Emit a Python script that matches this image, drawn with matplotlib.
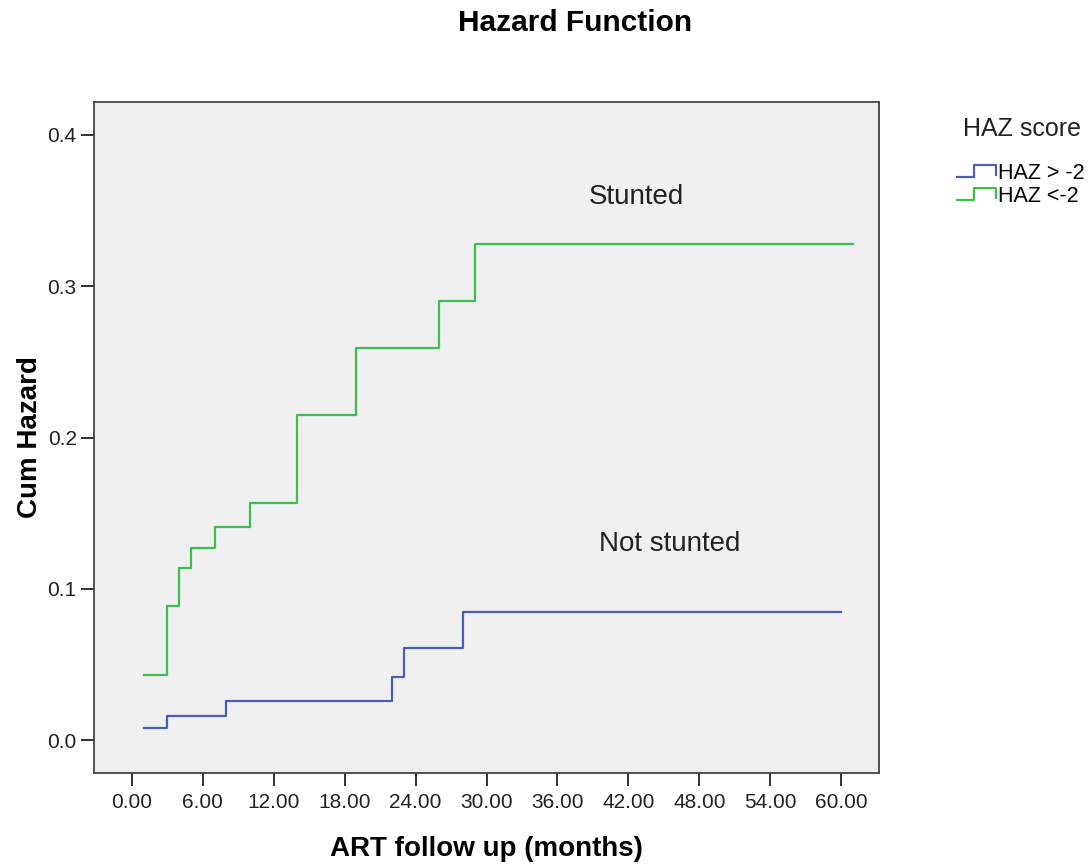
import matplotlib
matplotlib.use("Agg")
import matplotlib.pyplot as plt
from matplotlib.lines import Line2D
from matplotlib.legend_handler import HandlerBase

plt.rcParams['font.family'] = ['Liberation Sans', 'DejaVu Sans']

# Cumulative hazard step data
months_normal = [1, 3, 8, 22, 23, 28, 60]
hazard_normal = [0.008, 0.016, 0.026, 0.042, 0.061, 0.085, 0.085]
months_stunted = [1, 3, 4, 5, 7, 10, 14, 19, 26, 29, 61]
hazard_stunted = [0.043, 0.089, 0.114, 0.127, 0.141, 0.157, 0.215, 0.259, 0.290, 0.328, 0.328]

series_labels = ['HAZ > -2', 'HAZ <-2']
series_colors = ['#4a5fb8', '#3cbf50']
xticks = [0, 6, 12, 18, 24, 30, 36, 42, 48, 54, 60]
yticks = [0.0, 0.1, 0.2, 0.3, 0.4]


class StepHandler(HandlerBase):
    # little step glyph like the SPSS legend
    def create_artists(self, legend, orig_handle, xdescent, ydescent,
                       width, height, fontsize, trans):
        x0, x1 = -xdescent, -xdescent + width
        xm = x0 + width * 0.45
        y0 = -ydescent + height * 0.15
        y1 = -ydescent + height * 0.9
        line = Line2D([x0, xm, xm, x1, x1], [y0, y0, y1, y1, y0 + 0.1 * height],
                      color=orig_handle.get_color(), lw=1.6, transform=trans)
        return [line]


fig = plt.figure(figsize=(10.91, 8.66), dpi=100)
ax = fig.add_axes([0.0862, 0.1074, 0.7195, 0.7752])
ax.set_facecolor('#f0f0f0')

l1, = ax.step(months_normal, hazard_normal, where='post', color=series_colors[0], lw=1.6)
l2, = ax.step(months_stunted, hazard_stunted, where='post', color=series_colors[1], lw=1.6)

ax.set_xlim(-3.2, 63.2)
ax.set_ylim(-0.0216, 0.422)
ax.set_xticks(xticks)
ax.set_xticklabels([f'{t:.2f}' for t in xticks])
ax.set_yticks(yticks)
ax.set_yticklabels([f'{t:.1f}' for t in yticks])
ax.tick_params(axis='both', direction='out', length=9.5, width=1.3, labelsize=15, colors='#222222')
ax.tick_params(axis='x', pad=5)
ax.tick_params(axis='y', pad=3)
for s in ax.spines.values():
    s.set_color('#444444')
    s.set_linewidth(1.3)

ax.text(42.7, 0.359, 'Stunted', fontsize=20, ha='center', va='center', color='#222222')
ax.text(45.5, 0.1297, 'Not stunted', fontsize=20, ha='center', va='center', color='#222222')

ax.set_xlabel('ART follow up (months)', fontsize=20, fontweight='bold', labelpad=17)
ax.set_ylabel('Cum Hazard', fontsize=20, fontweight='bold', labelpad=3)
fig.text(0.527, 0.973, 'Hazard Function', fontsize=21.5, fontweight='bold', ha='center', va='center')

fig.text(0.937, 0.851, 'HAZ score', fontsize=18, ha='center', va='center', color='#222222')
fig.legend([l1, l2], series_labels, handler_map={Line2D: StepHandler()},
           loc='upper left', bbox_to_anchor=(0.877, 0.812), frameon=False,
           fontsize=15.5, handlelength=1.8, handletextpad=0.1, labelspacing=0.1,
           borderaxespad=0, borderpad=0)

fig.savefig('out.png', dpi=100)
